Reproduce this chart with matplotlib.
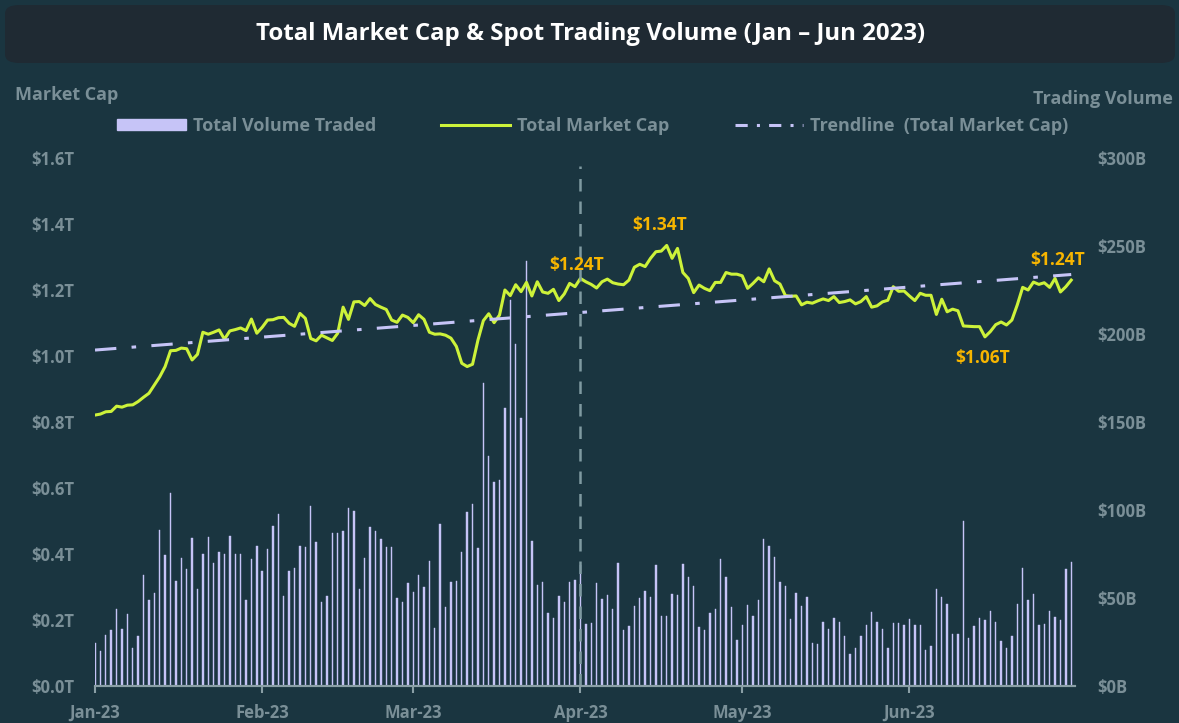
import matplotlib
matplotlib.use('Agg')
import matplotlib.pyplot as plt
import matplotlib.patches as mpatches
from matplotlib.lines import Line2D
import matplotlib.dates as mdates
import numpy as np
import pandas as pd

plt.rcParams['font.family'] = ['Open Sans', 'DejaVu Sans']
plt.rcParams['font.weight'] = 'bold'

# daily data, 2023-01-01 .. 2023-07-01
dates = pd.date_range('2023-01-01', periods=182, freq='D')

# total market cap, $T
market_cap = [
    0.821, 0.824, 0.831, 0.832, 0.848, 0.845, 0.851, 0.852, 0.862, 0.875,
    0.887, 0.912, 0.937, 0.968, 1.016, 1.017, 1.024, 1.022, 0.988, 1.005,
    1.072, 1.066, 1.072, 1.079, 1.051, 1.076, 1.080, 1.085, 1.077, 1.112,
    1.069, 1.087, 1.109, 1.110, 1.116, 1.117, 1.099, 1.090, 1.129, 1.114,
    1.053, 1.046, 1.063, 1.055, 1.047, 1.069, 1.148, 1.111, 1.164, 1.165,
    1.153, 1.174, 1.156, 1.148, 1.141, 1.109, 1.102, 1.124, 1.117, 1.101,
    1.125, 1.111, 1.072, 1.066, 1.067, 1.063, 1.054, 1.029, 0.978, 0.968,
    0.975, 1.048, 1.107, 1.128, 1.101, 1.124, 1.200, 1.183, 1.216, 1.195,
    1.223, 1.182, 1.225, 1.194, 1.190, 1.202, 1.168, 1.188, 1.220, 1.210,
    1.235, 1.225, 1.217, 1.206, 1.225, 1.233, 1.222, 1.218, 1.216, 1.230,
    1.269, 1.278, 1.271, 1.296, 1.316, 1.318, 1.335, 1.296, 1.326, 1.253,
    1.235, 1.192, 1.215, 1.205, 1.198, 1.223, 1.223, 1.253, 1.248, 1.248,
    1.243, 1.205, 1.220, 1.237, 1.225, 1.264, 1.228, 1.218, 1.183, 1.181,
    1.182, 1.155, 1.163, 1.160, 1.167, 1.173, 1.168, 1.180, 1.162, 1.165,
    1.170, 1.158, 1.165, 1.180, 1.148, 1.152, 1.164, 1.169, 1.210, 1.196,
    1.197, 1.182, 1.168, 1.190, 1.184, 1.184, 1.126, 1.172, 1.134, 1.142,
    1.137, 1.091, 1.090, 1.089, 1.089, 1.058, 1.074, 1.095, 1.103, 1.094,
    1.109, 1.155, 1.208, 1.200, 1.224, 1.217, 1.222, 1.208, 1.235, 1.194,
    1.210, 1.230,
]

# spot trading volume, $B
volume = [
    24.4, 19.9, 29.2, 32.0, 43.8, 32.6, 40.7, 21.8, 28.4, 62.9,
    48.7, 52.7, 88.4, 74.6, 109.5, 59.7, 72.7, 66.7, 84.3, 55.3,
    75.0, 84.7, 70.1, 76.3, 75.2, 85.4, 75.2, 74.8, 48.7, 72.2,
    79.7, 65.5, 77.8, 90.9, 97.9, 51.3, 65.5, 66.9, 79.7, 79.2,
    102.3, 81.8, 47.7, 51.3, 87.1, 87.1, 88.3, 101.1, 99.4, 55.3,
    72.7, 90.2, 87.9, 83.7, 79.0, 79.2, 50.2, 47.9, 58.5, 53.6,
    63.3, 56.1, 71.2, 32.8, 92.0, 44.7, 58.9, 59.8, 76.3, 98.9,
    103.2, 78.2, 172.2, 130.7, 115.9, 117.0, 158.0, 219.3, 194.3, 152.3,
    241.5, 82.6, 57.6, 58.9, 41.7, 38.8, 50.9, 47.9, 58.9, 60.4,
    68.6, 35.3, 35.8, 58.5, 49.6, 51.9, 44.0, 70.1, 32.0, 34.1,
    45.6, 49.8, 54.2, 50.6, 68.8, 39.6, 40.0, 52.3, 51.9, 69.3,
    62.1, 57.0, 33.3, 32.0, 41.7, 43.7, 72.3, 62.1, 45.1, 26.2,
    34.8, 46.2, 40.0, 48.7, 83.7, 79.6, 73.5, 58.9, 56.8, 38.2,
    52.9, 45.3, 50.4, 24.6, 24.1, 36.4, 32.5, 38.8, 36.6, 28.6,
    18.2, 21.4, 28.4, 34.6, 42.2, 36.4, 32.4, 21.8, 36.0, 35.6,
    34.5, 38.2, 34.6, 34.8, 20.7, 22.9, 55.3, 50.8, 46.8, 29.3,
    29.3, 93.7, 27.5, 34.3, 38.7, 37.5, 42.6, 36.6, 25.4, 21.6,
    28.4, 46.8, 67.3, 48.9, 52.4, 34.8, 35.1, 42.6, 39.0, 37.5,
    66.3, 70.4,
]

cap_ticks = [0, 0.2, 0.4, 0.6, 0.8, 1.0, 1.2, 1.4, 1.6]
cap_labels = ['$0.0T', '$0.2T', '$0.4T', '$0.6T', '$0.8T', '$1.0T', '$1.2T', '$1.4T', '$1.6T']
vol_ticks = [0, 50, 100, 150, 200, 250, 300]
vol_labels = ['$0B', '$50B', '$100B', '$150B', '$200B', '$250B', '$300B']

# annotated points: (index, label, offset in points)
callouts = [
    (90, '$1.24T', (-3, 10)),
    (106, '$1.34T', (-5, 15)),
    (165, '$1.06T', (-2, -15)),
    (178, '$1.24T', (2, 13)),
]

BG = '#1a3540'
GREY = '#7a8f97'
LIME = '#cdf23a'
LAV = '#c6c4f7'
GOLD = '#f7b500'

fig = plt.figure(figsize=(11.79, 7.23), dpi=100)
fig.patch.set_facecolor(BG)

# title box
box = mpatches.FancyBboxPatch((5 / 1179, 1 - 63 / 723), 1170 / 1179, 58 / 723,
                              boxstyle='round,pad=0,rounding_size=0.012',
                              transform=fig.transFigure, facecolor='#1f2a33',
                              edgecolor='none', zorder=0)
fig.patches.append(box)
fig.text(0.501, 1 - 34 / 723, 'Total Market Cap & Spot Trading Volume (Jan \u2013 Jun 2023)',
         ha='center', va='center', color='white', fontsize=17.3, fontweight='bold')

ax = fig.add_axes([95 / 1179, 37 / 723, 980 / 1179, 528 / 723])
ax2 = ax.twinx()
ax.set_zorder(ax2.get_zorder() + 1)
ax.patch.set_visible(False)
ax2.set_facecolor(BG)

x = mdates.date2num(dates)

ax2.bar(x, volume, width=0.26, color=LAV, edgecolor=LAV, linewidth=0.3)
ax2.set_ylim(0, 300)

ax.plot(x, market_cap, color=LIME, lw=2.2, solid_joinstyle='round')
coef = np.polyfit(np.arange(len(market_cap)), market_cap, 1)
trend = np.polyval(coef, np.arange(len(market_cap)))
ax.plot(x, trend, color=LAV, lw=2.2, linestyle=(0, (7, 5, 1.5, 5)))
ax.set_ylim(0, 1.6)
ax.set_xlim(x[0], x[0] + 181.7)

ax.axvline(mdates.date2num(pd.Timestamp('2023-04-01')), ymin=0, ymax=0.985,
           color='#7f9aa1', lw=1.8, linestyle=(0, (5, 4)))

for idx, label, off in callouts:
    ax.annotate(label, (x[idx], market_cap[idx]), xytext=off, textcoords='offset points',
                ha='center', va='center', color=GOLD, fontsize=12.5, fontweight='bold')

# axes styling
for a in (ax, ax2):
    for s in ('top', 'left', 'right'):
        a.spines[s].set_visible(False)
    a.spines['bottom'].set_color('#8a9fa6')
    a.spines['bottom'].set_linewidth(1.5)

ax.set_yticks(cap_ticks)
ax.set_yticklabels(cap_labels)
ax.tick_params(axis='y', length=0, pad=15, labelcolor=GREY, labelsize=12)
ax2.set_yticks(vol_ticks)
ax2.set_yticklabels(vol_labels)
ax2.tick_params(axis='y', length=0, pad=16, labelcolor=GREY, labelsize=12)

month_starts = pd.date_range('2023-01-01', periods=6, freq='MS')
ax.set_xticks(mdates.date2num(month_starts))
ax.set_xticklabels([d.strftime('%b-%y') for d in month_starts])
ax.tick_params(axis='x', length=5, width=1.5, color='#8a9fa6', pad=8,
               labelcolor=GREY, labelsize=12)

for lab in ax.get_yticklabels() + ax2.get_yticklabels() + ax.get_xticklabels():
    lab.set_fontweight('bold')

fig.text(15 / 1179, 1 - 95 / 723, 'Market Cap', ha='left', va='center',
         color=GREY, fontsize=13, fontweight='bold')
fig.text(1033 / 1179, 1 - 99 / 723, 'Trading Volume', ha='left', va='center',
         color=GREY, fontsize=13, fontweight='bold')

handles = [
    mpatches.Patch(color=LAV, label='Total Volume Traded'),
    Line2D([], [], color=LIME, lw=2.2, label='Total Market Cap'),
    Line2D([], [], color=LAV, lw=2.2, linestyle=(0, (4, 3, 1, 3)), label='Trendline  (Total Market Cap)'),
]
leg = fig.legend(handles=handles, loc='center', bbox_to_anchor=(593 / 1179, 1 - 126 / 723),
                 ncol=3, frameon=False, fontsize=13, handlelength=3.8, handleheight=0.6,
                 handletextpad=0.4, columnspacing=3.6)
for t in leg.get_texts():
    t.set_color(GREY)
    t.set_fontweight('bold')

fig.savefig('out.png', dpi=100, facecolor=BG)
